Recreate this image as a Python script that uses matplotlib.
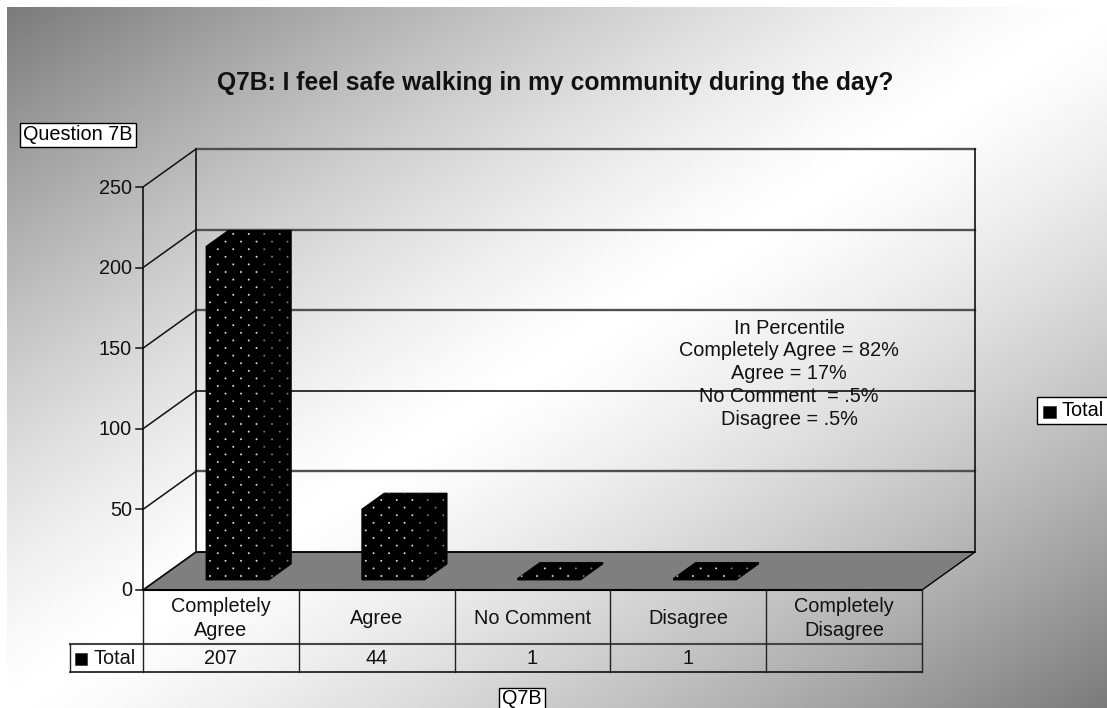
import numpy as np
import matplotlib
matplotlib.use('Agg')
import matplotlib.pyplot as plt
from matplotlib.patches import Polygon, Rectangle

plt.rcParams['font.family'] = ['Liberation Sans', 'DejaVu Sans']

categories = ['Completely\nAgree', 'Agree', 'No Comment', 'Disagree', 'Completely\nDisagree']
values = [207, 44, 1, 1, None]
y_ticks = [0, 50, 100, 150, 200, 250]
series_name = 'Total'
title = 'Q7B: I feel safe walking in my community during the day?'
note_lines = ['In Percentile', 'Completely Agree = 82%', 'Agree = 17%',
              'No Comment  = .5%', 'Disagree = .5%']

W, H = 1107, 708
X0, Y0 = 143, 590       # front corner of the floor, in pixels
CELL_W = 155.8
UNIT = (590 - 187) / 250
DX, DY = 53, -38        # depth offset of the back wall
ROW1, ROW2 = 644, 672   # table row bottoms
FS = 14.3


def project(pos, value, depth=0.0):
    # fake 3D: category position, value, depth (0 front, 1 back)
    return (X0 + pos * CELL_W + depth * DX, Y0 - value * UNIT + depth * DY)


fig = plt.figure(figsize=(W / 100, H / 100), dpi=100)
ax = fig.add_axes([0, 0, 1, 1])
ax.axis('off')

# Diagonal background, dark corners and white through the middle
xx, yy = np.meshgrid(np.linspace(0, 1, W), np.linspace(0, 1, H))
t = (xx + yy) / 2
bg = 0.48 + 0.52 * (1 - np.abs(2 * t - 1) ** 1.3)
ax.imshow(bg, cmap='gray', vmin=0, vmax=1, extent=(7, W, H, 7), aspect='auto', zorder=0)
ax.set_xlim(0, W)
ax.set_ylim(H, 0)

n = len(categories)
top = y_ticks[-1]

# Floor
floor = [project(0, 0), project(n, 0), project(n, 0, 1), project(0, 0, 1)]
ax.add_patch(Polygon(floor, closed=True, facecolor='#7f7f7f', edgecolor='black', lw=1.0, zorder=1))

# Walls and gridlines
wall_c = '#111111'
for v in y_ticks:
    p0, p1, p2 = project(0, v), project(0, v, 1), project(n, v, 1)
    ax.plot([p0[0], p1[0]], [p0[1], p1[1]], color=wall_c, lw=1.1, zorder=1)
    back_c, back_lw = ('black', 1.1) if v in (0, 100) else ('#505050', 1.7)
    ax.plot([p1[0], p2[0]], [p1[1], p2[1]], color=back_c, lw=back_lw, zorder=1)
    ax.plot([p0[0] - 7, p0[0]], [p0[1], p0[1]], color=wall_c, lw=1.1, zorder=1)
    ax.text(p0[0] - 11, p0[1] + 1, str(v), ha='right', va='center', fontsize=FS, color='#111111')
for pos, depth in [(0, 0), (0, 1), (n, 1)]:
    p0, p1 = project(pos, 0, depth), project(pos, top, depth)
    ax.plot([p0[0], p1[0]], [p0[1], p1[1]], color=wall_c, lw=1.2, zorder=1)

# Bars with a dotted fill
BAR_L, BAR_W = 0.315, 0.404
D0, D1 = 0.263, 0.684
for i, v in enumerate(values):
    if v is None:
        continue
    a, b = i + BAR_L, i + BAR_L + BAR_W
    front = [project(a, 0, D0), project(b, 0, D0), project(b, v, D0), project(a, v, D0)]
    side = [project(b, 0, D0), project(b, 0, D1), project(b, v, D1), project(b, v, D0)]
    lid = [project(a, v, D0), project(b, v, D0), project(b, v, D1), project(a, v, D1)]
    shape = [front[0], front[1], side[1], side[2], lid[3], front[3]]
    outline = ax.add_patch(Polygon(shape, closed=True, facecolor='black', edgecolor='black',
                                   lw=0.6, zorder=3))
    # staggered dot texture, dimmer towards the side face
    xs, ys = np.meshgrid(np.arange(0, 16) * 7.75, np.arange(0, 50) * 7.6)
    xs = xs.ravel()
    ys = ys.ravel()
    rows = np.arange(0, 50).repeat(16)
    cols = np.tile(np.arange(0, 16), 50)
    keep = (rows + cols) % 2 == 0
    dx = front[0][0] + 4 + xs[keep]
    dy = front[0][1] - 4 - ys[keep]
    dim = dx > front[1][0] - 12
    dots = ax.scatter(dx, dy, s=2.0, c=np.where(dim, '#777777', '#dddddd'), linewidths=0, zorder=4)
    dots.set_clip_path(outline)

# Table under the chart
line_c = '#222222'
ax.plot([X0, X0 + n * CELL_W], [Y0, Y0], color='black', lw=1.5, zorder=2)
ax.plot([70, X0 + n * CELL_W], [ROW1, ROW1], color='#444444', lw=1.5, zorder=2)
ax.plot([70, X0 + n * CELL_W], [ROW2, ROW2], color='black', lw=1.1, zorder=2)
ax.plot([70, 70], [ROW1, ROW2], color=line_c, lw=1.0, zorder=2)
for i in range(n + 1):
    x = X0 + i * CELL_W
    ax.plot([x, x], [Y0, ROW2], color=line_c, lw=1.0, zorder=2)
for i, (cat, v) in enumerate(zip(categories, values)):
    xc = X0 + (i + 0.5) * CELL_W
    ax.text(xc, (Y0 + ROW1) / 2 + 1.5, cat, ha='center', va='center', fontsize=FS,
            color='#111111', linespacing=1.28)
    if v is not None:
        ax.text(xc, (ROW1 + ROW2) / 2 + 0.5, str(v), ha='center', va='center', fontsize=FS,
                color='#111111')
ax.add_patch(Rectangle((75, 653), 12, 12, facecolor='black', edgecolor='#333333', lw=0.5, zorder=3))
ax.text(93, (ROW1 + ROW2) / 2 + 0.5, series_name, ha='left', va='center', fontsize=FS, color='#111111')

# Title and labelled boxes
ax.text(555, 83, title, ha='center', va='center', fontsize=17.7, fontweight='bold', color='#111111')
for x0, y0, x1, y1, txt in [(20, 123, 136, 147, 'Question 7B'), (499, 688, 545, 712, 'Q7B')]:
    ax.add_patch(Rectangle((x0, y0), x1 - x0, y1 - y0, facecolor='white', edgecolor='black', lw=1.0, zorder=5))
    ax.text((x0 + x1) / 2, (y0 + y1) / 2 - (2 if txt == 'Q7B' else 0), txt, ha='center', va='center',
            fontsize=FS, color='black', zorder=6)

# Legend box, runs off the right edge
ax.add_patch(Rectangle((1037, 397), 80, 27, facecolor='white', edgecolor='black', lw=1.0, zorder=5))
ax.add_patch(Rectangle((1043, 406), 13, 12, facecolor='black', edgecolor='#333333', lw=0.5, zorder=6))
ax.text(1061, 411, series_name, ha='left', va='center', fontsize=FS, color='black', zorder=6)

# Percent note over the back wall
for k, line in enumerate(note_lines):
    ax.text(789, 328 + k * 22.8, line, ha='center', va='center', fontsize=FS, color='#111111', zorder=6)

fig.savefig('out.png', dpi=100)
